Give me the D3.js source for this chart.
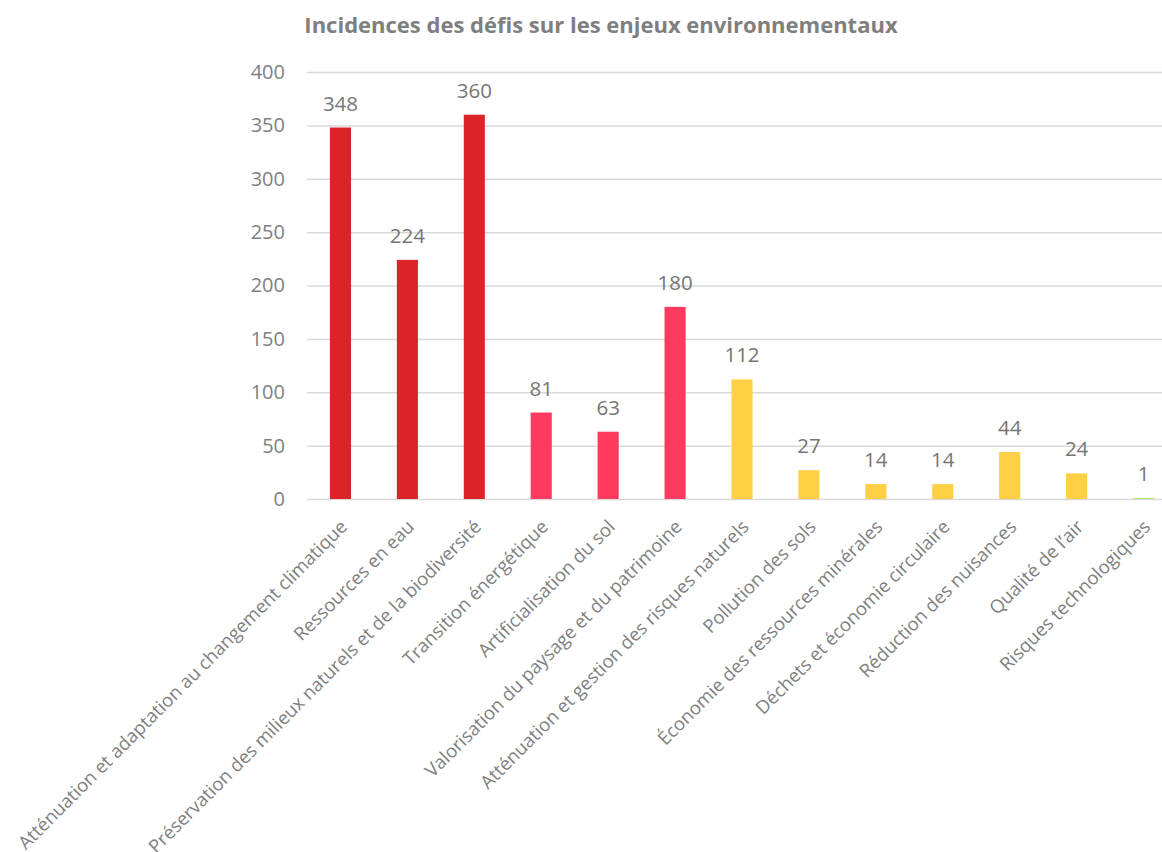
<!DOCTYPE html>
<html>
<head>
<meta charset="utf-8">
<script src="https://cdn.jsdelivr.net/npm/d3@7"></script>
<style>
  body { margin: 0; background: #fff; }
  text { font-family: "Open Sans", sans-serif; }
</style>
</head>
<body>
<div id="chart-area"></div>
<script>
var width = 1162;
var height = 852;

var categories = [
  "Atténuation et adaptation au changement climatique",
  "Ressources en eau",
  "Préservation des milieux naturels et de la biodiversité",
  "Transition énergétique",
  "Artificialisation du sol",
  "Valorisation du paysage et du patrimoine",
  "Atténuation et gestion des risques naturels",
  "Pollution des sols",
  "Économie des ressources minérales",
  "Déchets et économie circulaire",
  "Réduction des nuisances",
  "Qualité de l’air",
  "Risques technologiques"
];
var values = [348, 224, 360, 81, 63, 180, 112, 27, 14, 14, 44, 24, 1];
// priority group of each issue (drives the colour)
var groups = ["fort", "fort", "fort", "moyen", "moyen", "moyen", "faible", "faible", "faible", "faible", "faible", "faible", "tres-faible"];
var yTicks = [0, 50, 100, 150, 200, 250, 300, 350, 400];
var title = "Incidences des défis sur les enjeux environnementaux";

var color = d3.scaleOrdinal()
  .domain(["fort", "moyen", "faible", "tres-faible"])
  .range(["#DC2328", "#FF3A5F", "#FFCF44", "#B5E85C"]);

var svg = d3.select("#chart-area")
  .append("svg")
  .attr("width", width)
  .attr("height", height);

var x = d3.scaleBand()
  .domain(categories)
  .range([307, 1177])
  .paddingInner(0.685)
  .paddingOuter(0.3425);

var y = d3.scaleLinear()
  .domain([0, 400])
  .range([499, 72]);

//title
svg.append("text")
  .attr("x", 601)
  .attr("y", 33)
  .attr("text-anchor", "middle")
  .attr("font-size", "22px")
  .attr("font-weight", "bold")
  .attr("fill", "#7F7F7F")
  .text(title);

//gridlines + y labels
var yAxis = d3.axisLeft(y)
  .tickValues(yTicks)
  .tickSize(-(1177 - 307))
  .tickPadding(22);

var ya = svg.append("g")
  .attr("transform", "translate(307,0)")
  .call(yAxis);
ya.select(".domain").remove();
ya.selectAll(".tick line")
  .attr("stroke", "#D9D9D9")
  .attr("stroke-width", 1.5);
ya.selectAll(".tick text")
  .attr("font-family", "Open Sans, sans-serif")
  .attr("font-size", "20px")
  .attr("fill", "#7F7F7F");

//bars
svg.selectAll(".bar")
  .data(values)
  .enter()
  .append("rect")
  .attr("class", "bar")
  .attr("x", function(d, i) { return x(categories[i]); })
  .attr("width", x.bandwidth())
  .attr("y", function(d) { return y(d); })
  .attr("height", function(d) { return y(0) - y(d); })
  .attr("fill", function(d, i) { return color(groups[i]); });

//value labels
svg.selectAll(".val")
  .data(values)
  .enter()
  .append("text")
  .attr("class", "val")
  .attr("x", function(d, i) { return x(categories[i]) + x.bandwidth() / 2; })
  .attr("y", function(d) { return y(d) - 17; })
  .attr("text-anchor", "middle")
  .attr("font-size", "20.5px")
  .attr("fill", "#767676")
  .text(function(d) { return d; });

//category labels, rotated
svg.selectAll(".cat")
  .data(categories)
  .enter()
  .append("text")
  .attr("class", "cat")
  .attr("text-anchor", "end")
  .attr("font-size", "18.5px")
  .attr("fill", "#7F7F7F")
  .attr("transform", function(d) {
    var cx = x(d) + x.bandwidth() / 2;
    return "translate(" + (cx + 8) + ",528) rotate(-45)";
  })
  .text(function(d) { return d; });
</script>
</body>
</html>
